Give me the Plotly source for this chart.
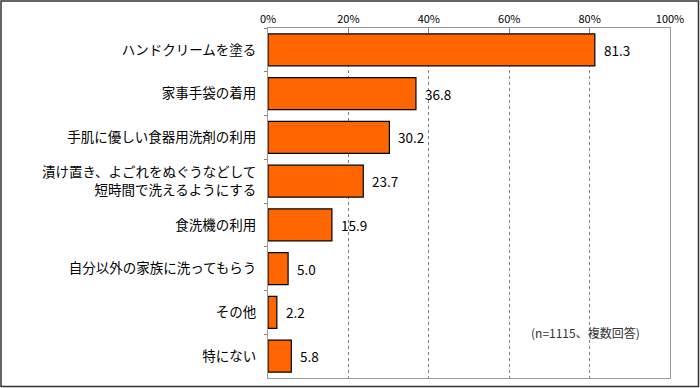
import plotly.graph_objects as go

categories = [
    "ハンドクリームを塗る",
    "家事手袋の着用",
    "手肌に優しい食器用洗剤の利用",
    "漬け置き、よごれをぬぐうなどして<br>短時間で洗えるようにする",
    "食洗機の利用",
    "自分以外の家族に洗ってもらう",
    "その他",
    "特にない",
]
values = [81.3, 36.8, 30.2, 23.7, 15.9, 5.0, 2.2, 5.8]
tick_vals = [0, 20, 40, 60, 80, 100]
tick_text = ["0%", "20%", "40%", "60%", "80%", "100%"]
note = "(n=1115、複数回答)"

FONT = "Noto Sans CJK JP"
W, H = 700, 388
L, R, T, B = 268, 30, 28, 10
pw, ph = W - L - R, H - T - B

fig = go.Figure()
fig.add_trace(go.Bar(
    y=categories, x=values, orientation="h",
    marker=dict(color="#FF6600", line=dict(color="#000000", width=1.2)),
    width=0.73, hoverinfo="skip",
))

annotations = [dict(
    x=v, y=c, xref="x", yref="y", text=f"{v:.1f}", showarrow=False,
    xanchor="left", yanchor="middle", xshift=7,
    font=dict(family=FONT, size=13.5, color="#000000"),
) for c, v in zip(categories, values)]
annotations.append(dict(
    text=note, xref="x", yref="paper", x=79, y=0.13,
    xanchor="center", yanchor="middle", showarrow=False,
    font=dict(family=FONT, size=12, color="#333333"),
))

fig.update_layout(
    width=W, height=H,
    margin=dict(l=L, r=R, t=T, b=B, autoexpand=False),
    plot_bgcolor="white", paper_bgcolor="white",
    showlegend=False,
    font=dict(family=FONT, color="#000000"),
    xaxis=dict(
        side="top", range=[0, 100], tickvals=tick_vals, ticktext=tick_text,
        showgrid=True, gridcolor="#808080", griddash="dot", gridwidth=1,
        ticks="inside", ticklen=5, tickcolor="#808080",
        showline=True, linecolor="#999999", linewidth=1, mirror=True,
        tickfont=dict(family=FONT, size=11, color="#000000"),
        zeroline=False, fixedrange=True, automargin=False,
    ),
    yaxis=dict(
        autorange="reversed", type="category",
        ticks="outside", ticklen=3, tickcolor="#808080", tickson="boundaries",
        showline=True, linecolor="#999999", linewidth=1, mirror=True,
        tickfont=dict(family=FONT, size=13.5, color="#000000"),
        ticklabelstandoff=8, showgrid=False, automargin=False,
    ),
    annotations=annotations,
    shapes=[dict(
        type="rect", xref="paper", yref="paper",
        x0=-(L - 1) / pw, x1=1 + (R - 1.5) / pw,
        y0=-(B - 1.5) / ph, y1=1 + (T - 1) / ph,
        line=dict(color="#333333", width=1.5),
    )],
)

fig.write_html(
    "out.html",
    config={"displayModeBar": False},
    post_script="document.body.style.margin='0';document.body.style.padding='0';",
)
